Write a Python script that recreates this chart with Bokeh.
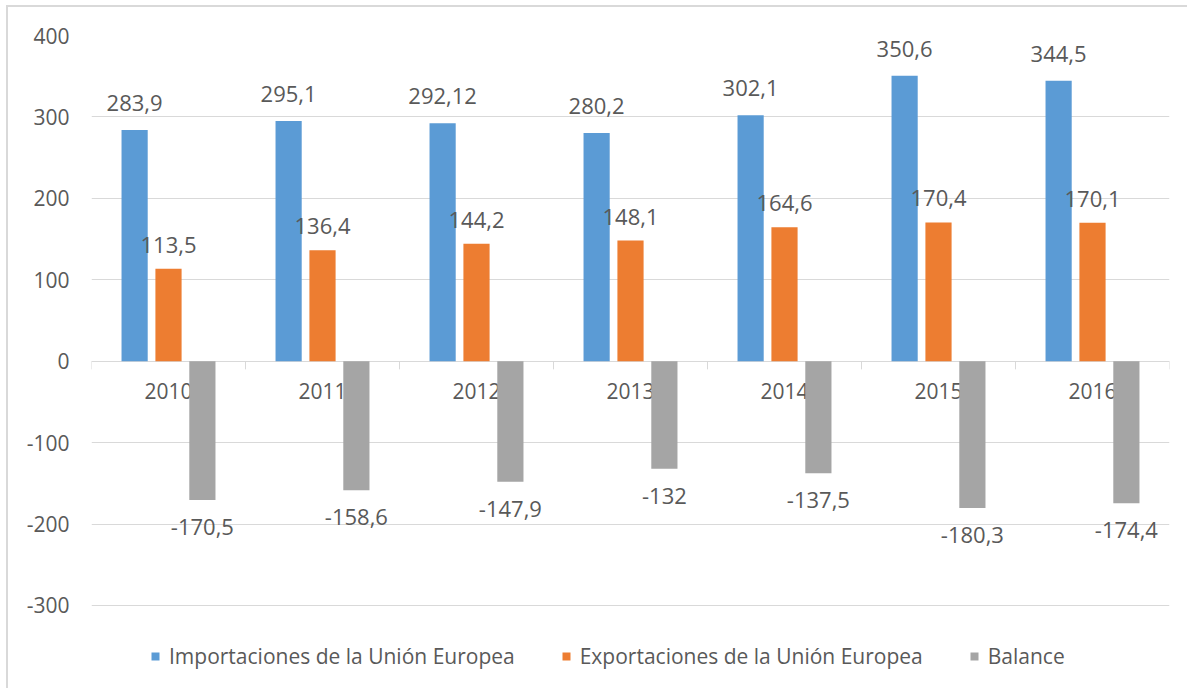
from bokeh.plotting import figure
from bokeh.models import ColumnDataSource, Range1d, FixedTicker, Legend
from bokeh.transform import dodge
from bokeh.core.properties import value
from bokeh.embed import file_html
from bokeh.resources import INLINE

years = ["2010", "2011", "2012", "2013", "2014", "2015", "2016"]
importaciones = [283.9, 295.1, 292.12, 280.2, 302.1, 350.6, 344.5]
exportaciones = [113.5, 136.4, 144.2, 148.1, 164.6, 170.4, 170.1]
balance = [-170.5, -158.6, -147.9, -132, -137.5, -180.3, -174.4]
y_ticks = [-300, -200, -100, 0, 100, 200, 300, 400]

def fmt(v):
    return str(v).replace(".", ",")

n = len(years)
src = ColumnDataSource(dict(
    x=[i + 0.5 for i in range(n)],
    year=years,
    imp=importaciones, exp=exportaciones, bal=balance,
    imp_t=[fmt(v) for v in importaciones],
    exp_t=[fmt(v) for v in exportaciones],
    bal_t=[fmt(v) for v in balance],
))

FONT = "Open Sans"
TXT = "#595959"
BLUE, ORANGE, GRAY = "#5b9bd5", "#ed7d31", "#a5a5a5"

p = figure(width=1181, height=683, output_backend="svg", toolbar_location=None,
           x_range=Range1d(0, n), y_range=Range1d(-404.4, 400),
           min_border_left=83, min_border_right=20, min_border_top=28, min_border_bottom=0)
p.outline_line_color = None
p.styles = {"border-left": "2px solid #d9d9d9", "border-top": "2px solid #d9d9d9",
            "margin-left": "6px", "margin-top": "5px"}
p.xaxis.visible = False
p.xgrid.visible = False

ya = p.yaxis[0]
ya.ticker = FixedTicker(ticks=y_ticks)
ya.major_label_overrides = {t: str(t) for t in y_ticks}
ya.axis_line_color = None
ya.major_tick_line_color = None
ya.major_tick_out = 0
ya.major_tick_in = 0
ya.minor_tick_line_color = None
ya.major_label_text_font = FONT
ya.major_label_text_font_size = "21px"
ya.major_label_text_color = TXT
ya.major_label_standoff = 22
p.ygrid.ticker = FixedTicker(ticks=y_ticks)
p.ygrid.grid_line_color = "#d9d9d9"
p.ygrid.grid_line_width = 1

# category separator ticks below the zero line
sep = ColumnDataSource(dict(x=list(range(n + 1))))
p.segment(x0="x", x1="x", y0=0, y1=-10, source=sep, line_color="#d9d9d9", line_width=1)

# year labels at the zero line
p.text(x="x", y=0, text="year", source=src, text_font=value(FONT), text_font_size="21px",
       text_color=TXT, text_align="center", text_baseline="middle", y_offset=30)

w = 0.17
off = 0.22
r1 = p.vbar(x=dodge("x", -off, range=p.x_range), top="imp", bottom=0, width=w, source=src,
            fill_color=BLUE, line_color=None)
r2 = p.vbar(x=dodge("x", 0, range=p.x_range), top="exp", bottom=0, width=w, source=src,
            fill_color=ORANGE, line_color=None)
r3 = p.vbar(x=dodge("x", off, range=p.x_range), top="bal", bottom=0, width=w, source=src,
            fill_color=GRAY, line_color=None)

lab = dict(source=src, text_font=value(FONT), text_font_size="22px", text_color=TXT,
           text_align="center", text_baseline="middle")
p.text(x=dodge("x", -off, range=p.x_range), y="imp", text="imp_t", y_offset=-27, **lab)
p.text(x=dodge("x", 0, range=p.x_range), y="exp", text="exp_t", y_offset=-24, **lab)
p.text(x=dodge("x", off, range=p.x_range), y="bal", text="bal_t", y_offset=27, **lab)

legend = Legend(items=[("Importaciones de la Unión Europea", [r1]),
                       ("Exportaciones de la Unión Europea", [r2]),
                       ("Balance", [r3])],
                location=(59, 20), orientation="horizontal")
legend.background_fill_alpha = 0
legend.border_line_color = None
legend.padding = 0
legend.margin = 0
legend.spacing = 46
legend.glyph_width = 10
legend.glyph_height = 10
legend.label_standoff = 9
legend.label_text_font = FONT
legend.label_text_font_size = "21px"
legend.label_text_color = TXT
p.add_layout(legend, "center")

open("out.html", "w").write(file_html(p, INLINE))
